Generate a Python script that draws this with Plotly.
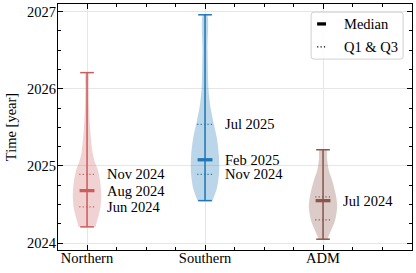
import plotly.graph_objects as go

# ---------------- data ----------------
categories = ["Northern", "Southern", "ADM"]
mins = [2024.21, 2024.55, 2024.05]
maxs = [2026.21, 2026.96, 2025.21]
medians = [2024.68, 2025.08, 2024.55]
q1s = [2024.47, 2024.89, 2024.30]
q3s = [2024.89, 2025.54, 2024.60]
median_labels = ["Aug 2024", "Feb 2025", "Jul 2024"]
q1_labels = ["Jun 2024", "Nov 2024", None]
q3_labels = ["Nov 2024", "Jul 2025", None]

# density profiles (relative kernel density)
northern_y = [2024.21, 2024.24, 2024.35, 2024.47, 2024.58, 2024.65, 2024.82, 2024.95,
              2025.08, 2025.21, 2025.51, 2025.80, 2026.00, 2026.21]
northern_d = [0.61, 0.64, 0.81, 0.95, 1.00, 1.00, 0.91, 0.76, 0.50, 0.36, 0.21, 0.14, 0.12, 0.09]
southern_y = [2024.55, 2024.58, 2024.71, 2024.93, 2025.14, 2025.36, 2025.57, 2025.79,
              2026.01, 2026.50, 2026.96]
southern_d = [0.54, 0.59, 0.84, 1.00, 0.98, 0.84, 0.59, 0.36, 0.24, 0.18, 0.14]
adm_y = [2024.05, 2024.07, 2024.17, 2024.30, 2024.47, 2024.60, 2024.78, 2024.95, 2025.10, 2025.21]
adm_d = [0.31, 0.35, 0.58, 0.86, 1.00, 0.93, 0.70, 0.40, 0.28, 0.24]

profiles_y = [northern_y, southern_y, adm_y]
profiles_d = [northern_d, southern_d, adm_d]

y_ticks = [2024, 2025, 2026, 2027]

# ---------------- style ----------------
line_colors = ["#cd5c5c", "#1f77b4", "#8c564b"]
fill_colors = ["rgba(205,92,92,0.28)", "rgba(31,119,180,0.30)", "rgba(140,86,75,0.30)"]
HALF_W = 0.12
CAP_W = 0.058
MED_W = 0.063
Q_W = 0.066
LABEL_DX = 0.152
FONT = "Liberation Serif"
FS = 14.5
DOT = "1.2px,2.2px"

fig = go.Figure()

for i, cat in enumerate(categories):
    pos = i + 1
    ys = profiles_y[i]
    ds = profiles_d[i]
    xr = [pos + HALF_W * d for d in ds]
    xl = [pos - HALF_W * d for d in ds][::-1]
    fig.add_trace(go.Scatter(
        x=xr + xl, y=ys + ys[::-1], mode="lines", fill="toself",
        fillcolor=fill_colors[i], line=dict(width=0, shape="spline", smoothing=0.8),
        hoverinfo="skip", showlegend=False))
    fig.add_trace(go.Scatter(x=[pos, pos], y=[mins[i], maxs[i]], mode="lines",
                             line=dict(color=line_colors[i], width=1.5), showlegend=False))
    for v in (mins[i], maxs[i]):
        fig.add_trace(go.Scatter(x=[pos - CAP_W, pos + CAP_W], y=[v, v], mode="lines",
                                 line=dict(color=line_colors[i], width=1.5), showlegend=False))
    fig.add_trace(go.Scatter(x=[pos - MED_W, pos + MED_W], y=[medians[i], medians[i]], mode="lines",
                             line=dict(color=line_colors[i], width=3.3), showlegend=False))
    for v in (q1s[i], q3s[i]):
        fig.add_trace(go.Scatter(x=[pos - Q_W, pos + Q_W], y=[v, v], mode="lines",
                                 line=dict(color=line_colors[i], width=1.2, dash=DOT),
                                 showlegend=False))
    for v, lab in ((q3s[i], q3_labels[i]), (medians[i], median_labels[i]), (q1s[i], q1_labels[i])):
        if lab:
            fig.add_annotation(x=pos + LABEL_DX, y=v, text=lab, showarrow=False,
                               xanchor="left", yanchor="middle",
                               font=dict(family=FONT, size=FS, color="black"))

# manual legend (paper coords)
x0, x1, y0, y1, r = 0.715, 0.975, 0.776, 0.967, 0.008
ry = r * 354 / 246
path = (f"M {x0+r},{y0} L {x1-r},{y0} Q {x1},{y0} {x1},{y0+ry} L {x1},{y1-ry} "
        f"Q {x1},{y1} {x1-r},{y1} L {x0+r},{y1} Q {x0},{y1} {x0},{y1-ry} "
        f"L {x0},{y0+ry} Q {x0},{y0} {x0+r},{y0} Z")
fig.add_shape(type="path", path=path, xref="paper", yref="paper",
              line=dict(color="#d0d0d0", width=1), fillcolor="rgba(255,255,255,0.85)")
fig.add_shape(type="line", xref="paper", yref="paper", x0=0.732, x1=0.757, y0=0.919, y1=0.919,
              line=dict(color="black", width=3.3))
fig.add_shape(type="line", xref="paper", yref="paper", x0=0.732, x1=0.760, y0=0.826, y1=0.826,
              line=dict(color="black", width=1.2, dash=DOT))
fig.add_annotation(x=0.801, y=0.919, xref="paper", yref="paper", text="Median", showarrow=False,
                   xanchor="left", yanchor="middle", font=dict(family=FONT, size=FS, color="black"))
fig.add_annotation(x=0.801, y=0.826, xref="paper", yref="paper", text="Q1 &amp; Q3", showarrow=False,
                   xanchor="left", yanchor="middle", font=dict(family=FONT, size=FS, color="black"))

axis_common = dict(showline=True, linecolor="black", linewidth=1.2, mirror="ticks",
                   ticks="inside", ticklen=4.5, tickwidth=1, tickcolor="black",
                   showgrid=True, gridcolor="#e6e6e6", gridwidth=1, zeroline=False,
                   automargin=False,
                   tickfont=dict(family=FONT, size=FS, color="black"))

fig.update_xaxes(range=[0.754, 3.754], tickvals=[1, 2, 3], ticktext=categories,
                 ticklabelstandoff=-6,
                 minor=dict(dtick=0.25, tick0=1, ticks="inside", ticklen=2.5, tickcolor="black",
                            showgrid=False),
                 **axis_common)
fig.update_yaxes(range=[2023.91, 2027.10], tickvals=y_ticks, ticktext=[str(t) for t in y_ticks],
                 ticklabelstandoff=-2,
                 minor=dict(dtick=0.25, tick0=2024, ticks="inside", ticklen=2.5, tickcolor="black",
                            showgrid=False),
                 title=dict(text="Time [year]", font=dict(family=FONT, size=FS, color="black"),
                            standoff=6),
                 **axis_common)

fig.update_layout(width=416, height=273, autosize=False,
                  margin=dict(l=58, r=4, t=4, b=23),
                  plot_bgcolor="white", paper_bgcolor="white",
                  showlegend=False, font=dict(family=FONT, size=FS, color="black"))

fig.write_html("out.html", config={"displayModeBar": False},
               post_script="document.body.style.margin='0';document.body.style.padding='0';")
